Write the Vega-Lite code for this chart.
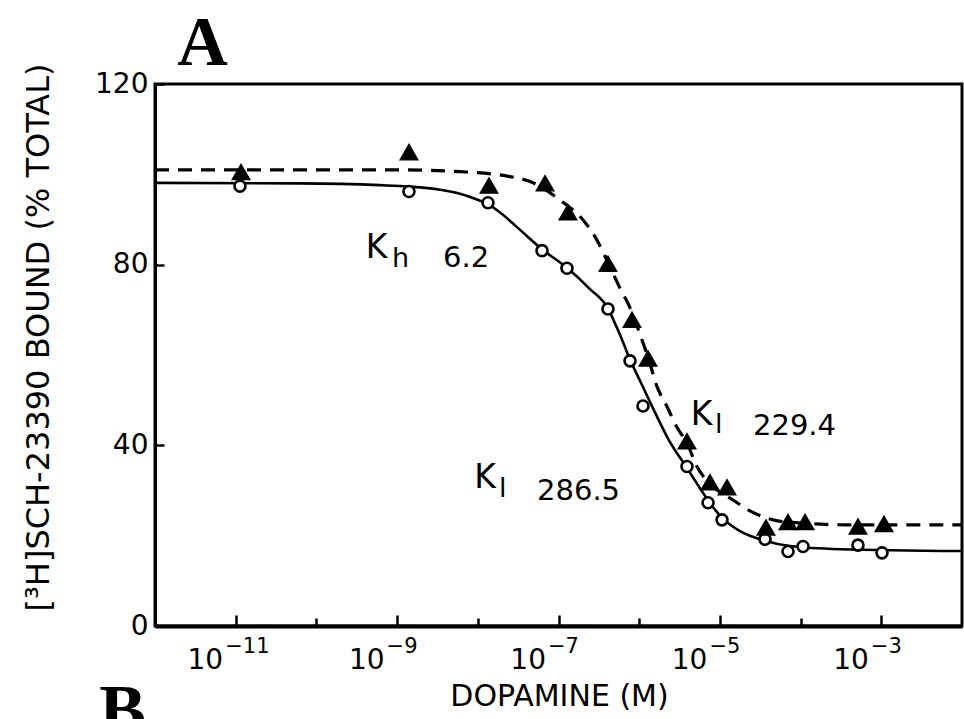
{
  "$schema": "https://vega.github.io/schema/vega-lite/v6.json",
  "width": 807,
  "height": 542,
  "autosize": "none",
  "padding": {"left": 155, "top": 84, "right": 2, "bottom": 93},
  "background": "white",
  "config": {
    "view": {"stroke": "black", "strokeWidth": 3},
    "axis": {
      "grid": false,
      "domainColor": "black",
      "tickColor": "black",
      "labelColor": "black",
      "titleColor": "black",
      "labelFont": "DejaVu Sans",
      "titleFont": "DejaVu Sans",
      "titleFontWeight": "normal",
      "tickWidth": 2.5
    }
  },
  "datasets": {
    "points": [
      {"series": "two-site (Kh 6.2, Kl 286.5)", "logM": -10.947, "pct": 97.4},
      {"series": "two-site (Kh 6.2, Kl 286.5)", "logM": -8.853, "pct": 96.2},
      {"series": "two-site (Kh 6.2, Kl 286.5)", "logM": -7.874, "pct": 93.7},
      {"series": "two-site (Kh 6.2, Kl 286.5)", "logM": -7.204, "pct": 83.1},
      {"series": "two-site (Kh 6.2, Kl 286.5)", "logM": -6.895, "pct": 79.2},
      {"series": "two-site (Kh 6.2, Kl 286.5)", "logM": -6.387, "pct": 70.2},
      {"series": "two-site (Kh 6.2, Kl 286.5)", "logM": -6.114, "pct": 58.7},
      {"series": "two-site (Kh 6.2, Kl 286.5)", "logM": -5.953, "pct": 48.7},
      {"series": "two-site (Kh 6.2, Kl 286.5)", "logM": -5.408, "pct": 35.3},
      {"series": "two-site (Kh 6.2, Kl 286.5)", "logM": -5.147, "pct": 27.3},
      {"series": "two-site (Kh 6.2, Kl 286.5)", "logM": -4.974, "pct": 23.5},
      {"series": "two-site (Kh 6.2, Kl 286.5)", "logM": -4.441, "pct": 19.2},
      {"series": "two-site (Kh 6.2, Kl 286.5)", "logM": -4.156, "pct": 16.5},
      {"series": "two-site (Kh 6.2, Kl 286.5)", "logM": -3.970, "pct": 17.6},
      {"series": "two-site (Kh 6.2, Kl 286.5)", "logM": -3.289, "pct": 17.9},
      {"series": "two-site (Kh 6.2, Kl 286.5)", "logM": -2.991, "pct": 16.2},
      {"series": "one-site (Kl 229.4)", "logM": -10.934, "pct": 100.6},
      {"series": "one-site (Kl 229.4)", "logM": -8.853, "pct": 105.0},
      {"series": "one-site (Kl 229.4)", "logM": -7.861, "pct": 97.6},
      {"series": "one-site (Kl 229.4)", "logM": -7.167, "pct": 98.1},
      {"series": "one-site (Kl 229.4)", "logM": -6.883, "pct": 91.7},
      {"series": "one-site (Kl 229.4)", "logM": -6.387, "pct": 80.3},
      {"series": "one-site (Kl 229.4)", "logM": -6.089, "pct": 67.9},
      {"series": "one-site (Kl 229.4)", "logM": -5.891, "pct": 59.3},
      {"series": "one-site (Kl 229.4)", "logM": -5.408, "pct": 41.0},
      {"series": "one-site (Kl 229.4)", "logM": -5.123, "pct": 31.9},
      {"series": "one-site (Kl 229.4)", "logM": -4.912, "pct": 30.8},
      {"series": "one-site (Kl 229.4)", "logM": -4.429, "pct": 21.9},
      {"series": "one-site (Kl 229.4)", "logM": -4.156, "pct": 23.1},
      {"series": "one-site (Kl 229.4)", "logM": -3.945, "pct": 23.1},
      {"series": "one-site (Kl 229.4)", "logM": -3.289, "pct": 22.1},
      {"series": "one-site (Kl 229.4)", "logM": -2.967, "pct": 22.7}
    ],
    "solid": [
      {"logM": -12, "pct": 98.1},
      {"logM": -10.203, "pct": 98.0},
      {"logM": -9.212, "pct": 97.6},
      {"logM": -8.853, "pct": 97.3},
      {"logM": -8.468, "pct": 96.6},
      {"logM": -8.221, "pct": 95.7},
      {"logM": -8.035, "pct": 94.6},
      {"logM": -7.874, "pct": 93.4},
      {"logM": -7.700, "pct": 91.2},
      {"logM": -7.539, "pct": 88.7},
      {"logM": -7.204, "pct": 83.4},
      {"logM": -6.895, "pct": 79.3},
      {"logM": -6.610, "pct": 74.6},
      {"logM": -6.387, "pct": 70.3},
      {"logM": -6.300, "pct": 67.0},
      {"logM": -6.238, "pct": 64.5},
      {"logM": -6.114, "pct": 59.0},
      {"logM": -5.990, "pct": 54.3},
      {"logM": -5.866, "pct": 49.6},
      {"logM": -5.742, "pct": 45.0},
      {"logM": -5.643, "pct": 41.5},
      {"logM": -5.408, "pct": 35.0},
      {"logM": -5.247, "pct": 30.5},
      {"logM": -5.123, "pct": 27.2},
      {"logM": -4.974, "pct": 24.0},
      {"logM": -4.751, "pct": 21.0},
      {"logM": -4.441, "pct": 18.9},
      {"logM": -4.131, "pct": 17.7},
      {"logM": -3.512, "pct": 17.0},
      {"logM": -2, "pct": 16.6}
    ],
    "dashed": [
      {"logM": -12, "pct": 101.0},
      {"logM": -8.964, "pct": 101.0},
      {"logM": -8.221, "pct": 100.6},
      {"logM": -7.601, "pct": 99.5},
      {"logM": -7.353, "pct": 98.4},
      {"logM": -6.981, "pct": 94.3},
      {"logM": -6.696, "pct": 89.9},
      {"logM": -6.548, "pct": 86.2},
      {"logM": -6.387, "pct": 80.5},
      {"logM": -6.238, "pct": 74.8},
      {"logM": -6.114, "pct": 70.5},
      {"logM": -5.965, "pct": 63.3},
      {"logM": -5.891, "pct": 59.5},
      {"logM": -5.779, "pct": 53.0},
      {"logM": -5.656, "pct": 48.6},
      {"logM": -5.532, "pct": 44.0},
      {"logM": -5.408, "pct": 40.5},
      {"logM": -5.284, "pct": 35.3},
      {"logM": -5.123, "pct": 31.5},
      {"logM": -4.838, "pct": 27.9},
      {"logM": -4.627, "pct": 25.5},
      {"logM": -4.342, "pct": 23.5},
      {"logM": -4.007, "pct": 22.8},
      {"logM": -3.425, "pct": 22.4},
      {"logM": -2, "pct": 22.4}
    ],
    "notes": [
      {"role": "K", "logM": -9.255, "pct": 81.5, "text": "K"},
      {"role": "sub", "logM": -9.063, "pct": 79.5, "text": "h"},
      {"role": "value", "logM": -8.431, "pct": 79.5, "text": "6.2"},
      {"role": "K", "logM": -5.228, "pct": 44.5, "text": "K"},
      {"role": "sub", "logM": -5.061, "pct": 42.7, "text": "l"},
      {"role": "value", "logM": -4.590, "pct": 42.3, "text": "229.4"},
      {"role": "K", "logM": -7.911, "pct": 30.6, "text": "K"},
      {"role": "sub", "logM": -7.737, "pct": 28.6, "text": "l"},
      {"role": "value", "logM": -7.266, "pct": 27.9, "text": "286.5"},
      {"role": "panel", "logM": -11.411, "pct": 124.2, "text": "A"},
      {"role": "panel", "logM": -12.403, "pct": -23.8, "text": "B"}
    ]
  },
  "layer": [
    {
      "data": {"name": "solid"},
      "mark": {"type": "line", "color": "black", "strokeWidth": 2.6, "interpolate": "monotone"},
      "encoding": {
        "x": {
          "field": "logM", "type": "quantitative",
          "scale": {"domain": [-12, -2], "nice": false, "zero": false},
          "axis": {
            "orient": "bottom",
            "values": [-11, -9, -7, -5, -3],
            "tickSize": -11,
            "domainWidth": 4,
            "labelFontSize": 28,
            "labelPadding": 53,
            "labelBaseline": "alphabetic",
            "labelAlign": "right",
            "labelOffset": -13,
            "labelFlush": false,
            "labelExpr": "'10'",
            "title": "DOPAMINE (M)",
            "titleFontSize": 30,
            "titleX": 404,
            "titleY": 79,
            "titleAlign": "center",
            "titleBaseline": "alphabetic"
          }
        },
        "y": {
          "field": "pct", "type": "quantitative",
          "scale": {"domain": [0, 120], "nice": false, "zero": false},
          "axis": {
            "values": [0, 40, 80, 120],
            "tickSize": -9,
            "domainWidth": 3,
            "labelFontSize": 28,
            "labelPadding": 16,
            "title": "[³H]SCH-23390 BOUND (% TOTAL)",
            "titleFontSize": 32,
            "titleAngle": -90,
            "titleX": -117,
            "titleY": 253,
            "titleAlign": "center",
            "titleBaseline": "middle"
          }
        }
      }
    },
    {
      "data": {"name": "dashed"},
      "mark": {"type": "line", "color": "black", "strokeWidth": 3.2, "strokeDash": [14, 9], "interpolate": "monotone"},
      "encoding": {
        "x": {
          "field": "logM", "type": "quantitative",
          "axis": {
            "orient": "bottom",
            "values": [-10, -8, -6, -4],
            "tickSize": -8,
            "labels": false,
            "domain": false,
            "title": null
          }
        },
        "y": {"field": "pct", "type": "quantitative"}
      }
    },
    {
      "data": {"name": "points"},
      "transform": [{"filter": "datum.series == 'two-site (Kh 6.2, Kl 286.5)'"}],
      "mark": {"type": "point", "shape": "circle", "size": 121, "filled": false, "fill": "white", "fillOpacity": 1, "stroke": "black", "strokeWidth": 2.6, "opacity": 1},
      "encoding": {
        "x": {
          "field": "logM", "type": "quantitative",
          "axis": {
            "orient": "bottom",
            "values": [-11, -9, -7, -5, -3],
            "ticks": false,
            "tickSize": 0,
            "domain": false,
            "labelFontSize": 21,
            "labelPadding": 26,
            "labelBaseline": "alphabetic",
            "labelAlign": "left",
            "labelOffset": -11,
            "labelFlush": false,
            "labelExpr": "'−' + format(-datum.value, 'd')",
            "title": null
          }
        },
        "y": {"field": "pct", "type": "quantitative"}
      }
    },
    {
      "data": {"name": "points"},
      "transform": [{"filter": "datum.series == 'one-site (Kl 229.4)'"}],
      "mark": {"type": "point", "shape": "triangle-up", "size": 400, "filled": true, "color": "black", "opacity": 1},
      "encoding": {
        "x": {"field": "logM", "type": "quantitative", "axis": null},
        "y": {"field": "pct", "type": "quantitative"}
      }
    },
    {
      "data": {"name": "notes"},
      "transform": [{"filter": "datum.role == 'K'"}],
      "mark": {"type": "text", "font": "DejaVu Sans", "fontSize": 33, "align": "center", "baseline": "alphabetic", "color": "black"},
      "encoding": {
        "x": {"field": "logM", "type": "quantitative", "axis": null},
        "y": {"field": "pct", "type": "quantitative"},
        "text": {"field": "text"}
      }
    },
    {
      "data": {"name": "notes"},
      "transform": [{"filter": "datum.role == 'sub'"}],
      "mark": {"type": "text", "font": "DejaVu Sans", "fontSize": 27, "align": "left", "baseline": "alphabetic", "color": "black"},
      "encoding": {
        "x": {"field": "logM", "type": "quantitative", "axis": null},
        "y": {"field": "pct", "type": "quantitative"},
        "text": {"field": "text"}
      }
    },
    {
      "data": {"name": "notes"},
      "transform": [{"filter": "datum.role == 'value'"}],
      "mark": {"type": "text", "font": "DejaVu Sans", "fontSize": 29, "align": "left", "baseline": "alphabetic", "color": "black"},
      "encoding": {
        "x": {"field": "logM", "type": "quantitative", "axis": null},
        "y": {"field": "pct", "type": "quantitative"},
        "text": {"field": "text"}
      }
    },
    {
      "data": {"name": "notes"},
      "transform": [{"filter": "datum.role == 'panel'"}],
      "mark": {"type": "text", "font": "Liberation Serif", "fontWeight": "bold", "fontSize": 70, "align": "center", "baseline": "alphabetic", "color": "black"},
      "encoding": {
        "x": {"field": "logM", "type": "quantitative", "axis": null},
        "y": {"field": "pct", "type": "quantitative"},
        "text": {"field": "text"}
      }
    }
  ],
  "resolve": {"axis": {"x": "independent"}}
}
